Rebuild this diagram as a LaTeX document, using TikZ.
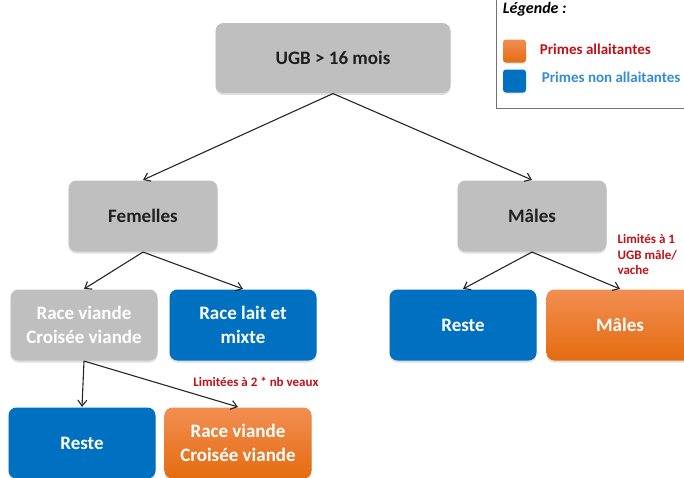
\documentclass[tikz,border=0pt]{standalone}
\usepackage{fontspec}
\setmainfont{Carlito}
\usetikzlibrary{arrows.meta,shadows}

\definecolor{boxgrey}{RGB}{191,191,191}
\definecolor{boxblue}{RGB}{0,112,192}
\definecolor{orangetop}{RGB}{242,142,82}
\definecolor{orangebot}{RGB}{228,108,16}
\definecolor{notered}{RGB}{192,16,24}
\definecolor{legblue}{RGB}{52,140,214}

\begin{document}
\begin{tikzpicture}[x=1pt,y=-1pt,>={Straight Barb[length=6pt,width=9pt]},line width=1.1pt]

    \useasboundingbox (0,0) rectangle (684,477);
    \clip (0,0) rectangle (684,477);

    % ============================
    % Styles
    % ============================

    \tikzstyle{box}=[rectangle,rounded corners=8pt,minimum width=147pt,
        minimum height=71pt,align=center,inner sep=2pt,
        font=\fontsize{19}{24}\selectfont\bfseries,
        drop shadow={shadow xshift=0pt,shadow yshift=-2pt,opacity=0.25}]
    \tikzstyle{greybox}=[box,fill=boxgrey,text=black!88]
    \tikzstyle{bluebox}=[box,fill=boxblue,text=white]
    \tikzstyle{orangebox}=[box,top color=orangetop,bottom color=orangebot,text=white]
    \tikzstyle{note}=[text=notered,font=\fontsize{13}{15.5}\selectfont\bfseries]
    \tikzstyle{legsq}=[rectangle,rounded corners=3pt,minimum size=23pt,inner sep=0pt,
        drop shadow={shadow xshift=0pt,shadow yshift=-1pt,opacity=0.25}]

    % ============================
    % Tree
    % ============================

    \node[greybox,minimum width=235pt,minimum height=70pt] (ugb) at (333,58) {UGB > 16 mois};

    \node[greybox,minimum width=149pt] (fem) at (143,216) {Femelles};
    \node[greybox,minimum width=149pt] (mal) at (532,216) {Mâles};

    \node[greybox,text=white] (viande) at (84,325) {Race viande\\Croisée viande};
    \node[bluebox] (lait) at (243,325) {Race lait et\\mixte};
    \node[bluebox] (resteM) at (463,325) {Reste};
    \node[orangebox] (malesA) at (620,325) {Mâles};

    \node[bluebox] (resteF) at (82,443) {Reste};
    \node[orangebox] (viandeA) at (238,443) {Race viande\\Croisée viande};

    % Arrows
    \draw[->,black!85] (ugb.south) -- (fem.north);
    \draw[->,black!85] (ugb.south) -- (mal.north);
    \draw[->,black!85] (fem.south) -- (viande.north);
    \draw[->,black!85] (fem.south) -- (lait.north);
    \draw[->,black!85] (mal.south) -- (resteM.north);
    \draw[->,black!85] (mal.south) -- (malesA.north);
    \draw[->,black!85] (viande.south) -- (resteF.north);
    \draw[->,black!85] (viande.south) -- (viandeA.north);

    % Limits
    \node[note] (limF) at (256,382) {Limitées à 2 * nb veaux};
    \node[note,anchor=north west,align=left,inner sep=0pt] (limM) at (617,234)
        {Limités à 1\\UGB mâle/\\vache};

    % ============================
    % Legend
    % ============================

    \draw[black!55,thin] (496,-5) rectangle (700,108);
    \node[anchor=west,font=\fontsize{16}{19}\selectfont\bfseries\itshape] (legtitle) at (499,9) {Légende :};

    \node[legsq,top color=orangetop,bottom color=orangebot] (sqA) at (514.5,51) {};
    \node[legsq,fill=boxblue] (sqB) at (514.5,81) {};
    \node[anchor=west,text=notered,font=\fontsize{15}{18}\selectfont\bfseries] (legA) at (536,49) {Primes allaitantes};
    \node[anchor=west,text=legblue,font=\fontsize{15}{18}\selectfont\bfseries] (legB) at (538,77) {Primes non allaitantes};

\end{tikzpicture}
\end{document}
